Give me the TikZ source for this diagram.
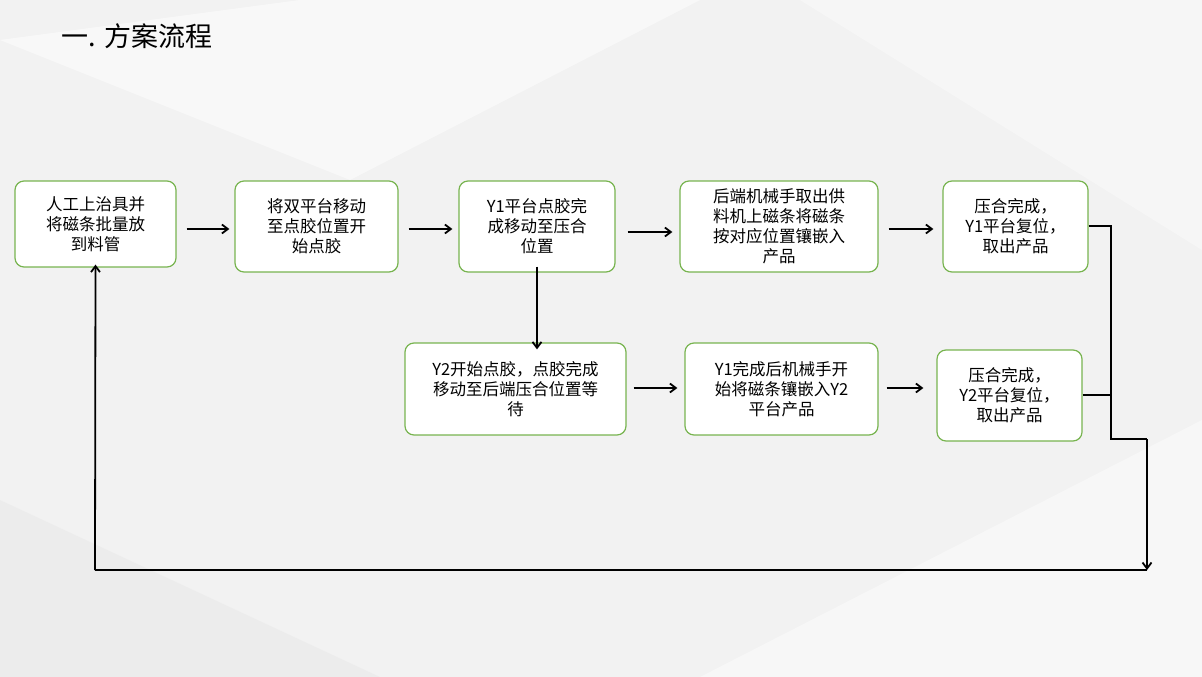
\documentclass[tikz,border=0pt]{standalone}
\usepackage{fontspec}
\newfontfamily\cjk{Noto Sans CJK SC}
\usetikzlibrary{arrows.meta}
\begin{document}
\begin{tikzpicture}[x=1pt,y=-1pt,
  box/.style={draw={rgb,255:red,120;green,180;blue,80}, line width=1.2pt, rounded corners=9pt, fill=white, align=center, font=\cjk\fontsize{16.5}{20}\selectfont, inner sep=0pt},
  arr/.style={line width=1.8pt, -{Straight Barb[length=6pt,width=9pt]}},
  ln/.style={line width=1.8pt}]
\useasboundingbox (0,0) rectangle (1202,677);
\fill[gray!10] (0,0) rectangle (1202,677);
\fill[white,opacity=0.5] (0,40) -- (300,0) -- (700,0) -- (350,180) -- cycle;
\fill[white,opacity=0.4] (700,677) -- (1202,420) -- (1202,677) -- cycle;
\fill[gray!20,opacity=0.4] (0,500) -- (380,677) -- (0,677) -- cycle;
\fill[white,opacity=0.35] (800,0) -- (1202,0) -- (1202,250) -- cycle;
\node[anchor=west,font=\cjk\fontsize{27}{32}\selectfont] (title) at (58,36) {一. 方案流程};
\node[box,minimum width=161pt,minimum height=86pt] (b1) at (95.5,224) {人工上治具并\\将磁条批量放\\到料管};
\node[box,minimum width=163pt,minimum height=91pt] (b2) at (316.5,226.5) {将双平台移动\\至点胶位置开\\始点胶};
\node[box,minimum width=156pt,minimum height=91pt] (b3) at (537,226.5) {Y1平台点胶完\\成移动至压合\\位置};
\node[box,minimum width=198pt,minimum height=91pt] (b4) at (779,226.5) {后端机械手取出供\\料机上磁条将磁条\\按对应位置镶嵌入\\产品};
\node[box,minimum width=145pt,minimum height=91pt] (b5) at (1015.5,226.5) {压合完成，\\Y1平台复位，\\取出产品};
\node[box,minimum width=221pt,minimum height=92pt] (b6) at (515.5,389) {Y2开始点胶，点胶完成\\移动至后端压合位置等\\待};
\node[box,minimum width=193pt,minimum height=92pt] (b7) at (781.5,389) {Y1完成后机械手开\\始将磁条镶嵌入Y2\\平台产品};
\node[box,minimum width=145pt,minimum height=91pt] (b8) at (1009.5,395.5) {压合完成，\\Y2平台复位，\\取出产品};
\draw[arr] ([xshift=10pt]b1.east|-0,229) -- ([xshift=-5pt]b2.west|-0,229);
\draw[arr] ([xshift=10pt]b2.east|-0,229) -- ([xshift=-6pt]b3.west|-0,229);
\draw[arr] ([xshift=12pt]b3.east|-0,232) -- ([xshift=-7pt]b4.west|-0,232);
\draw[arr] ([xshift=10pt]b4.east|-0,229) -- ([xshift=-9pt]b5.west|-0,229);
\draw[arr] ([yshift=6pt]b3.south) -- ([yshift=-7pt]b3.south|-b6.north);
\draw[arr] ([xshift=7pt]b6.east|-0,388) -- ([xshift=-7pt]b7.west|-0,388);
\draw[arr] ([xshift=8pt]b7.east|-0,388) -- ([xshift=-13pt]b8.west|-0,388);
\coordinate (j1) at (1111,226);
\coordinate (j2) at (1111,395);
\coordinate (j3) at (1111,439);
\coordinate (j4) at (1147,439);
\coordinate (j5) at (1147,570);
\coordinate (j6) at (95,570);
\draw[ln] (b5.east|-j1) -- (j1) -- (j2);
\draw[ln] (b8.east|-j2) -- (j2) -- (j3) -- (j4);
\draw[arr] (j4) -- (j5);
\draw[ln] (j5) -- (j6);
\draw[arr] (j6) -- ([yshift=3pt]b1.south);
\end{tikzpicture}
\end{document}
